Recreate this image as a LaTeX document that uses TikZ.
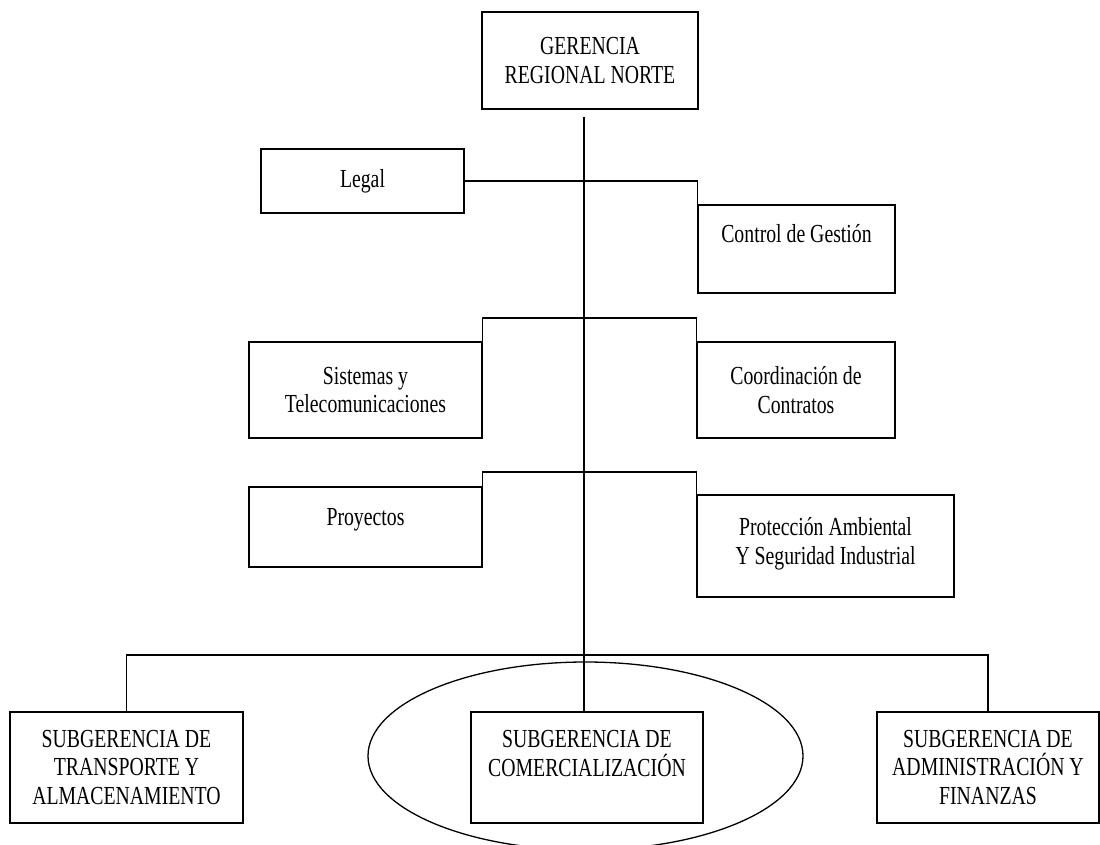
\documentclass[tikz,border=0pt]{standalone}
\usepackage{fontspec}
\setmainfont{Liberation Serif}[FakeStretch=0.76]
\usetikzlibrary{shapes.geometric}
\begin{document}
\begin{tikzpicture}[x=1pt,y=-1pt,
  box/.style={draw, line width=1.4pt, rectangle, inner sep=0pt, align=center, font=\fontsize{26}{28.5}\selectfont},
  conn/.style={line width=1.4pt},
  oval/.style={draw, ellipse, line width=1.3pt, inner sep=0pt}]
\useasboundingbox (0,0) rectangle (1100,845);

% boxes
\node[box, minimum width=216, minimum height=97] (top) at (590,60.5) {GERENCIA\\REGIONAL NORTE};
\node[box, minimum width=203, minimum height=64] (legal) at (362.5,181) {Legal};
\node[box, minimum width=197, minimum height=88] (ctrl) at (796.5,249) {Control de Gestión\\[3pt]\mbox{}};
\node[box, minimum width=233, minimum height=96] (sist) at (365.5,390) {Sistemas y\\Telecomunicaciones};
\node[box, minimum width=198, minimum height=96] (coord) at (796,390) {Coordinación de\\Contratos};
\node[box, minimum width=233, minimum height=80] (proy) at (365.5,527) {Proyectos\\[-8pt]\mbox{}};
\node[box, minimum width=257, minimum height=102] (prot) at (825.5,546) {Protección Ambiental\\Y Seguridad Industrial\\[-18pt]\mbox{}};

\node[oval, minimum width=435, minimum height=188] (oval) at (585.5,756) {};
\node[box, minimum width=233, minimum height=111] (tl) at (126.5,767.5) {SUBGERENCIA DE\\TRANSPORTE Y\\ALMACENAMIENTO};
\node[box, minimum width=232, minimum height=111] (tc) at (587,767.5) {SUBGERENCIA DE\\COMERCIALIZACIÓN\\\mbox{}};
\node[box, minimum width=222, minimum height=111] (tr) at (988,767.5) {SUBGERENCIA DE\\ADMINISTRACIÓN Y\\FINANZAS};

% connectors
\coordinate (trunk) at (584,117);
\draw[conn] (trunk) -- (trunk |- tc.north);
\draw[conn] (legal.east) -- (legal.east -| ctrl.west) -- (ctrl.north west);
\coordinate (bus1) at (584,318);
\draw[conn] (sist.north east) -- (sist.north east |- bus1) -- (coord.north west |- bus1) -- (coord.north west);
\coordinate (bus2) at (584,472);
\draw[conn] (proy.north east) -- (proy.north east |- bus2) -- (prot.north west |- bus2) -- (prot.north west);
\coordinate (bus3) at (584,655);
\draw[conn] (tl.north) -- (tl.north |- bus3) -- (tr.north |- bus3) -- (tr.north);
\end{tikzpicture}
\end{document}
